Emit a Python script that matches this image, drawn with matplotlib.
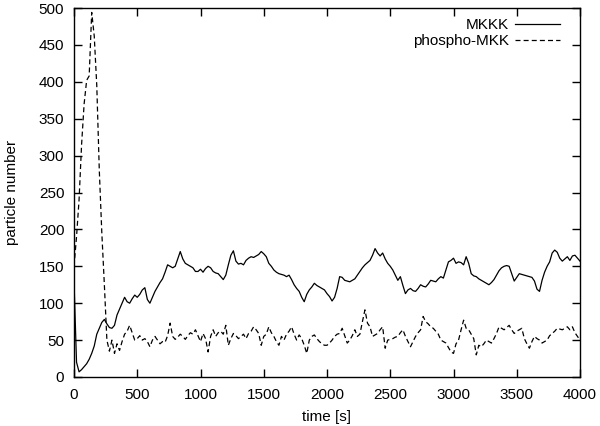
import numpy as np
import matplotlib
matplotlib.use("Agg")
import matplotlib.pyplot as plt

plt.rcParams['font.family'] = ['Liberation Sans', 'DejaVu Sans']

# sampled every 20 s, 0 .. 4000 s
mkkk = [
    130, 20, 7, 10, 14, 18, 24, 32, 42, 58,
    66, 74, 78, 72, 67, 66, 70, 84, 92, 100,
    108, 102, 100, 106, 111, 108, 112, 118, 121, 105,
    100, 108, 116, 122, 128, 133, 142, 152, 150, 148,
    150, 160, 170, 160, 154, 152, 150, 148, 143, 143,
    146, 142, 147, 150, 148, 143, 141, 140, 136, 132,
    138, 152, 165, 171, 157, 153, 154, 152, 158, 161,
    163, 162, 164, 166, 170, 167, 163, 154, 150, 145,
    142, 140, 139, 138, 136, 138, 132, 125, 120, 116,
    108, 102, 112, 118, 122, 127, 124, 122, 120, 118,
    113, 109, 103, 108, 120, 136, 135, 131, 130, 129,
    131, 133, 138, 143, 148, 152, 155, 158, 165, 174,
    168, 164, 168, 160, 154, 150, 145, 138, 131, 136,
    124, 113, 118, 120, 117, 116, 120, 125, 123, 122,
    126, 131, 130, 129, 133, 136, 134, 145, 156, 158,
    161, 154, 156, 155, 152, 163, 154, 140, 137, 136,
    133, 131, 129, 127, 125, 128, 132, 138, 144, 148,
    150, 151, 150, 140, 130, 135, 140, 139, 138, 137,
    136, 135, 130, 119, 116, 131, 142, 150, 156, 168,
    172, 169, 161, 157, 160, 163, 158, 164, 165, 161,
    157,
]

phospho_mkk = [
    150, 190, 240, 315, 370, 402, 408, 494, 462, 395,
    280, 195, 125, 50, 35, 50, 32, 45, 36, 48,
    58, 62, 70, 60, 50, 52, 56, 50, 52, 48,
    41, 50, 55, 50, 45, 48, 47, 56, 73, 55,
    51, 54, 58, 55, 51, 56, 60, 58, 64, 56,
    48, 59, 52, 34, 55, 64, 55, 60, 62, 58,
    70, 43, 52, 59, 56, 52, 55, 58, 52, 59,
    62, 68, 64, 59, 43, 55, 58, 68, 60, 55,
    48, 43, 55, 50, 58, 62, 68, 58, 50, 57,
    52, 43, 32, 50, 55, 57, 52, 48, 45, 43,
    43, 46, 50, 55, 58, 59, 66, 56, 46, 50,
    56, 64, 55, 58, 75, 91, 73, 68, 55, 57,
    59, 64, 68, 39, 50, 51, 52, 54, 55, 60,
    64, 55, 48, 41, 48, 55, 60, 64, 82, 75,
    72, 68, 66, 62, 58, 50, 48, 46, 40, 34,
    32, 45, 50, 64, 77, 66, 64, 58, 52, 30,
    43, 41, 45, 50, 48, 46, 52, 59, 68, 66,
    64, 67, 70, 64, 59, 62, 64, 66, 52, 45,
    39, 48, 55, 52, 50, 46, 48, 50, 56, 59,
    62, 66, 65, 64, 66, 68, 64, 68, 60, 55,
    50,
]

t1 = np.arange(len(mkkk)) * 20
t2 = np.arange(len(phospho_mkk)) * 20

fig = plt.figure(figsize=(6, 4.26), dpi=100)
ax = fig.add_axes([74 / 600, 49 / 426, 506 / 600, 369 / 426])

ax.plot(t1, mkkk, color="black", lw=0.9, label="MKKK")
l2, = ax.plot(t2, phospho_mkk, color="black", lw=0.9, label="phospho-MKK")
l2.set_dashes((4, 2.5))

ax.set_xlim(0, 4000)
ax.set_ylim(0, 500)
ax.set_xticks(np.arange(0, 4001, 500))
ax.set_yticks(np.arange(0, 501, 50))
ax.tick_params(direction="in", top=True, right=True, length=6, width=1,
               labelsize=11)
ax.tick_params(axis="x", pad=8)
ax.tick_params(axis="y", pad=7)
for s in ax.spines.values():
    s.set_linewidth(1)

ax.set_xlabel("time [s]", fontsize=11, labelpad=6)
ax.set_ylabel("particle number", fontsize=11, labelpad=14)

ax.legend(loc="upper right", bbox_to_anchor=(0.96, 0.972), frameon=False,
          markerfirst=False, fontsize=11, handlelength=2.9,
          handletextpad=0.45, borderpad=0, borderaxespad=0, labelspacing=0.1)

fig.savefig("out.png", dpi=100)
